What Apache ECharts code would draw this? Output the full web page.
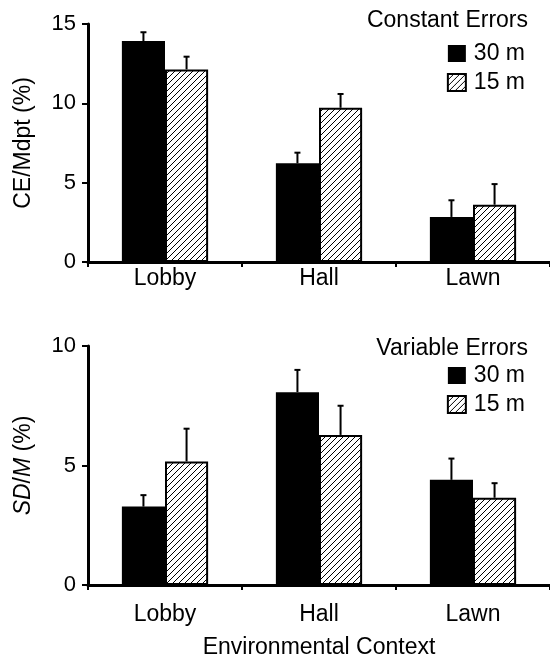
<!DOCTYPE html>
<html>
<head>
<meta charset="utf-8">
<script src="https://cdn.jsdelivr.net/npm/echarts@6/dist/echarts.min.js"></script>
<style>
html, body { margin: 0; padding: 0; background: #fff; }
#main { width: 550px; height: 660px; }
</style>
</head>
<body>
<div id="main"></div>
<script>
var categories = ['Lobby', 'Hall', 'Lawn'];
// Constant errors (CE/Mdpt %)
var ce30 = [13.93, 6.22, 2.84];
var ce30Err = [0.55, 0.67, 1.05];
var ce15 = [12.14, 9.72, 3.61];
var ce15Err = [0.8, 0.87, 1.3];
// Variable errors (SD/M %)
var ve30 = [3.28, 8.07, 4.40];
var ve30Err = [0.48, 0.93, 0.89];
var ve15 = [5.17, 6.28, 3.65];
var ve15Err = [1.37, 1.22, 0.61];

var font = 'Liberation Sans, Arial, Helvetica, sans-serif';
var myChart = echarts.init(document.getElementById('main'));

// hatch fill for the 15 m bars
function makeHatch() {
    var c = document.createElement('canvas');
    c.width = 6;
    c.height = 6;
    var g = c.getContext('2d');
    g.fillStyle = '#fff';
    g.fillRect(0, 0, 6, 6);
    g.strokeStyle = '#000';
    g.lineWidth = 1;
    g.beginPath();
    g.moveTo(0, 6); g.lineTo(6, 0);
    g.moveTo(-1, 1); g.lineTo(1, -1);
    g.moveTo(5, 7); g.lineTo(7, 5);
    g.stroke();
    return c;
}
var hatch = { image: makeHatch(), repeat: 'repeat' };

// error bar data: [category index, value, value + err]
function errData(vals, errs) {
    return vals.map(function (v, i) {
        return [i, v, v + errs[i]];
    });
}
function errRenderer(side) {
    return function (params, api) {
        var cat = api.value(0);
        var p0 = api.coord([cat, api.value(1)]);
        var p1 = api.coord([cat, api.value(2)]);
        var band = api.size([1, 0])[0];
        var x = p0[0] + side * band * 0.14;
        return {
            type: 'group',
            children: [
                { type: 'line', shape: { x1: x, y1: p0[1], x2: x, y2: p1[1] }, style: { stroke: '#000', lineWidth: 2 } },
                { type: 'line', shape: { x1: x - 3, y1: p1[1], x2: x + 3, y2: p1[1] }, style: { stroke: '#000', lineWidth: 2 } }
            ]
        };
    };
}

function xAxisOf(idx, margin, name) {
    return {
        type: 'category',
        gridIndex: idx,
        data: categories,
        name: name || '',
        nameLocation: 'middle',
        nameGap: 51,
        nameTextStyle: { color: '#000', fontSize: 23, fontFamily: font },
        axisLine: { lineStyle: { color: '#000', width: 3 } },
        axisTick: { show: true, length: 5, lineStyle: { color: '#000', width: 2 } },
        axisLabel: { color: '#000', fontSize: 23, fontFamily: font, margin: margin },
        splitLine: { show: false }
    };
}
function yAxisOf(idx, max, name) {
    return {
        type: 'value',
        gridIndex: idx,
        min: 0,
        max: max,
        interval: 5,
        name: name,
        nameLocation: 'middle',
        nameGap: 53,
        nameTextStyle: {
            color: '#000', fontSize: 23, fontFamily: font,
            rich: { i: { fontStyle: 'italic', fontSize: 23, fontFamily: font, color: '#000' } }
        },
        axisLine: { show: true, lineStyle: { color: '#000', width: 3 } },
        axisTick: { show: true, length: 6, lineStyle: { color: '#000', width: 2 } },
        axisLabel: { color: '#000', fontSize: 22, fontFamily: font, margin: 12 },
        splitLine: { show: false }
    };
}
function barSeries(name, idx, vals, fill) {
    return {
        name: name,
        type: 'bar',
        xAxisIndex: idx,
        yAxisIndex: idx,
        data: vals,
        barWidth: '28%',
        barGap: '0%',
        itemStyle: fill === 'solid'
            ? { color: '#000', borderColor: '#000', borderWidth: 0 }
            : { color: hatch, borderColor: '#000', borderWidth: 2 },
        emphasis: { disabled: true }
    };
}
function errSeries(idx, vals, errs, side) {
    return {
        type: 'custom',
        name: 'err',
        xAxisIndex: idx,
        yAxisIndex: idx,
        data: errData(vals, errs),
        renderItem: errRenderer(side),
        z: 5,
        silent: true
    };
}

var legendBase = {
    orient: 'vertical',
    right: 25,
    icon: 'rect',
    itemWidth: 18,
    itemHeight: 17,
    itemGap: 6,
    padding: 0,
    selectedMode: false,
    align: 'left',
    data: ['30 m', '15 m'],
    textStyle: { color: '#000', fontSize: 23, fontFamily: font, padding: [0, 0, 0, 3] }
};

option = {
    animation: false,
    textStyle: { fontFamily: font },
    title: [
        { text: 'Constant Errors', right: 22, top: 9, padding: 0, textStyle: { color: '#000', fontSize: 23, fontWeight: 'normal', fontFamily: font } },
        { text: 'Variable Errors', right: 22, top: 337, padding: 0, textStyle: { color: '#000', fontSize: 23, fontWeight: 'normal', fontFamily: font } }
    ],
    legend: [
        Object.assign({}, legendBase, { top: 42 }),
        Object.assign({}, legendBase, { top: 364 })
    ],
    grid: [
        { left: 88, right: 0, top: 24, height: 238 },
        { left: 88, right: 0, top: 346, height: 240 }
    ],
    xAxis: [
        xAxisOf(0, 5),
        xAxisOf(1, 18, 'Environmental Context')
    ],
    yAxis: [
        yAxisOf(0, 15, 'CE/Mdpt (%)'),
        yAxisOf(1, 10, '{i|SD}/{i|M} (%)')
    ],
    series: [
        barSeries('30 m', 0, ce30, 'solid'),
        barSeries('15 m', 0, ce15, 'hatch'),
        barSeries('30 m', 1, ve30, 'solid'),
        barSeries('15 m', 1, ve15, 'hatch'),
        errSeries(0, ce30, ce30Err, -1),
        errSeries(0, ce15, ce15Err, 1),
        errSeries(1, ve30, ve30Err, -1),
        errSeries(1, ve15, ve15Err, 1)
    ]
};
myChart.setOption(option);
</script>
</body>
</html>
